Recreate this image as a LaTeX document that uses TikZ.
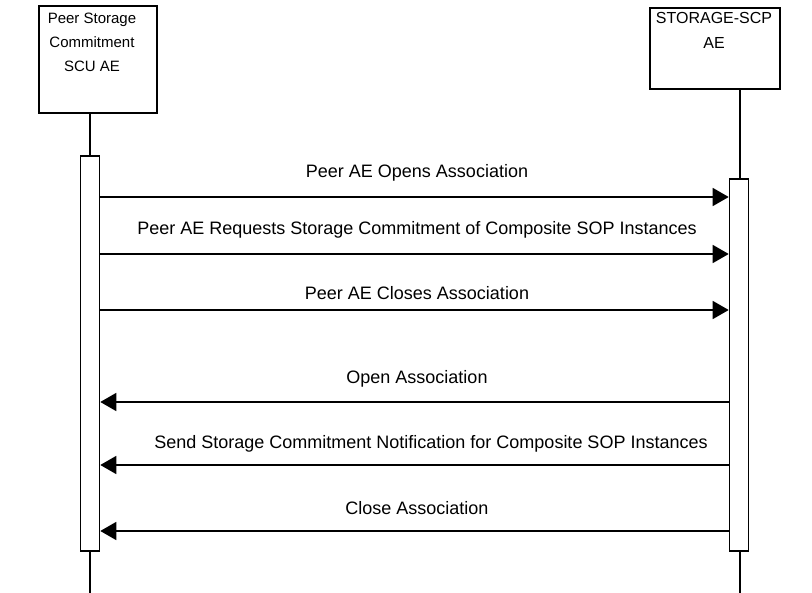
\documentclass[tikz,border=0pt]{standalone}
\usepackage{fontspec}
\setmainfont{Liberation Sans}
\usetikzlibrary{arrows.meta}
\begin{document}
\begin{tikzpicture}[x=1pt,y=-1pt,
  line width=1.6pt,
  aebox/.style={draw,rectangle,line width=1.6pt},
  actbar/.style={draw,rectangle,fill=white,line width=1.6pt,minimum width=19pt,inner sep=0pt},
  msg/.style={line width=1.6pt,-{Triangle[length=16pt,width=18pt]}},
  lbl/.style={font=\fontsize{18}{21}\selectfont,inner sep=0pt},
  boxtxt/.style={align=center,inner sep=0pt}]
\useasboundingbox (0,0) rectangle (812,593);
% actor boxes
\node[aebox,minimum width=118pt,minimum height=107pt,anchor=north west] (lbox) at (38,5) {};
\node[aebox,minimum width=130pt,minimum height=81pt,anchor=north west] (rbox) at (649,7) {};
\node[boxtxt,font=\fontsize{15}{24}\selectfont] (ltxt) at (92,42) {Peer Storage\\Commitment\\SCU AE};
\node[boxtxt,font=\fontsize{16}{25}\selectfont] (rtxt) at (714,30) {STORAGE-SCP\\AE};
% lifelines
\coordinate (lend) at (90,593);
\coordinate (rend) at (740,593);
\draw (lbox.south -| 90,0) -- (lend);
\draw (rbox.south -| 740,0) -- (rend);
% activation bars
\node[actbar,minimum height=395pt,anchor=north] (la) at (90,155) {};
\node[actbar,minimum height=372pt,anchor=north] (ra) at (739,178) {};
% messages
\draw[msg] (la.east |- 0,197) -- (ra.west |- 0,197);
\node[lbl] (m1) at (417,173) {Peer AE Opens Association};
\draw[msg] (la.east |- 0,254) -- (ra.west |- 0,254);
\node[lbl] (m2) at (417,230) {Peer AE Requests Storage Commitment of Composite SOP Instances};
\draw[msg] (la.east |- 0,310) -- (ra.west |- 0,310);
\node[lbl] (m3) at (417,293) {Peer AE Closes Association};
\draw[msg] (ra.west |- 0,402) -- (la.east |- 0,402);
\node[lbl] (m4) at (417,379) {Open Association};
\draw[msg] (ra.west |- 0,465) -- (la.east |- 0,465);
\node[lbl] (m5) at (431,444) {Send Storage Commitment Notification for Composite SOP Instances};
\draw[msg] (ra.west |- 0,531) -- (la.east |- 0,531);
\node[lbl] (m6) at (417,508) {Close Association};
\end{tikzpicture}
\end{document}
